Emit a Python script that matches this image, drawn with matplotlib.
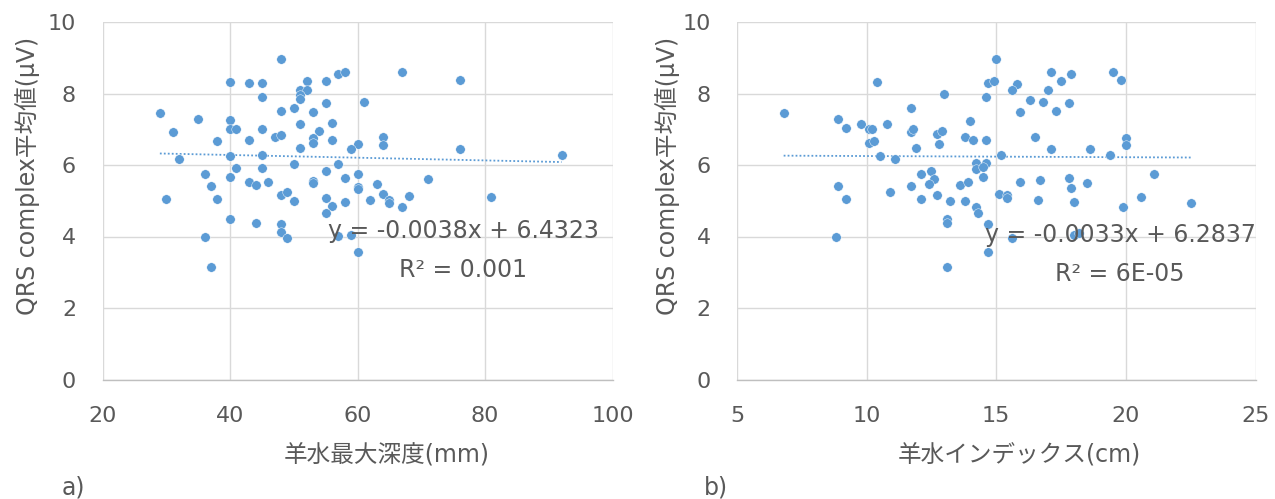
import numpy as np
import matplotlib
matplotlib.use("Agg")
import matplotlib.pyplot as plt

plt.rcParams['font.family'] = ['DejaVu Sans', 'Noto Sans CJK JP']

# a) maximum vertical pocket (mm) vs mean QRS amplitude (uV)
depth_mm = [48, 40, 43, 45, 52, 55, 57, 58, 51, 52, 51, 51, 45, 61, 55, 29, 48, 50, 53, 35,
            40, 31, 40, 41, 45, 51, 56, 54, 38, 43, 47, 48, 53, 53, 56, 51, 60, 59, 32, 40,
            45, 41, 45, 50, 57, 36, 40, 55, 60, 58, 37, 43, 44, 46, 53, 53, 60, 60, 63, 30,
            38, 48, 49, 50, 55, 56, 58, 62, 64, 64, 64, 65, 65, 67, 68, 71, 67, 76, 76, 92,
            81, 40, 44, 48, 48, 49, 36, 37, 55, 57, 59, 60]
qrs_a = [8.97, 8.31, 8.30, 8.28, 8.34, 8.36, 8.54, 8.60, 8.10, 8.09, 7.96, 7.84, 7.91, 7.75, 7.73,
         7.46, 7.51, 7.60, 7.49, 7.28, 7.25, 6.93, 7.01, 7.00, 7.00, 7.14, 7.17, 6.96, 6.67, 6.71,
         6.79, 6.85, 6.76, 6.62, 6.69, 6.48, 6.60, 6.44, 6.16, 6.25, 6.28, 5.91, 5.91, 6.04, 6.04,
         5.75, 5.66, 5.83, 5.75, 5.65, 5.41, 5.53, 5.44, 5.52, 5.56, 5.49, 5.39, 5.32, 5.47, 5.05,
         5.05, 5.17, 5.24, 4.98, 5.07, 4.85, 4.97, 5.02, 6.77, 6.56, 5.19, 5.02, 4.93, 4.83, 5.14,
         5.61, 8.60, 8.38, 6.45, 6.28, 5.10, 4.49, 4.38, 4.36, 4.13, 3.95, 3.99, 3.16, 4.65, 4.01,
         4.03, 3.57]

# b) amniotic fluid index (cm) vs mean QRS amplitude (uV)
afi_cm = [6.8, 10.4, 13.0, 15.0, 14.7, 14.9, 14.6, 11.7, 8.9, 9.2, 9.8, 10.1, 10.2, 10.8, 11.7,
          11.8, 10.1, 10.3, 12.7, 12.9, 12.8, 14.0, 13.8, 14.1, 14.6, 11.9, 10.5, 11.1, 15.2, 14.2,
          14.6, 14.2, 14.5, 14.5, 12.1, 12.5, 12.6, 12.4, 13.6, 13.9, 11.7, 8.9, 10.9, 9.2, 12.1,
          12.7, 13.2, 13.8, 14.2, 14.3, 13.1, 13.1, 14.7, 14.7, 8.8, 13.1, 15.1, 17.1, 17.9, 17.5,
          15.8, 15.6, 17.0, 19.5, 19.8, 16.3, 16.8, 17.8, 15.9, 17.3, 16.5, 17.1, 18.6, 20.0, 20.0,
          19.4, 15.9, 16.7, 17.8, 17.9, 18.5, 21.1, 15.4, 15.4, 16.6, 18.0, 19.9, 20.6, 22.5, 15.6,
          18.0, 18.2]
qrs_b = [7.46, 8.32, 7.98, 8.97, 8.30, 8.34, 7.91, 7.60, 7.28, 7.04, 7.16, 7.01, 7.00, 7.14, 6.93,
         7.00, 6.62, 6.67, 6.86, 6.96, 6.59, 7.24, 6.79, 6.71, 6.69, 6.48, 6.25, 6.17, 6.29, 6.05,
         6.05, 5.89, 5.95, 5.67, 5.75, 5.84, 5.62, 5.47, 5.44, 5.52, 5.41, 5.41, 5.24, 5.04, 5.05,
         5.15, 5.00, 4.98, 4.83, 4.67, 4.50, 4.37, 4.36, 3.57, 3.99, 3.16, 5.19, 8.60, 8.54, 8.35,
         8.27, 8.09, 8.11, 8.60, 8.38, 7.83, 7.75, 7.73, 7.49, 7.51, 6.77, 6.44, 6.45, 6.75, 6.56,
         6.29, 5.53, 5.57, 5.64, 5.35, 5.50, 5.76, 5.17, 5.07, 5.03, 4.97, 4.83, 5.11, 4.93, 3.95,
         4.04, 4.09]

# Linear trendlines as reported on the chart
trend_a = (-0.0038, 6.4323, "y = -0.0038x + 6.4323", "R² = 0.001")
trend_b = (-0.0033, 6.2837, "y = -0.0033x + 6.2837", "R² = 6E-05")

y_ticks = [0, 2, 4, 6, 8, 10]
x_ticks_a = [20, 40, 60, 80, 100]
x_ticks_b = [5, 10, 15, 20, 25]

BLUE = '#5B9BD5'
TEXT = '#595959'
GRID = '#D9D9D9'
W, H = 1275, 499

fig = plt.figure(figsize=(W / 100, H / 100), dpi=100)


def px(x, y):
    return x / W, 1 - y / H


def panel(rect, xs, ys, xticks, trend, xlabel, tag, ylabel_x, xlabel_x, tag_x, eq_x, eq_y):
    ax = fig.add_axes(rect)
    ax.set_xlim(xticks[0], xticks[-1])
    ax.set_ylim(0, 10)
    ax.set_xticks(xticks)
    ax.set_yticks(y_ticks)
    ax.grid(True, color=GRID, linewidth=1.0)
    ax.set_axisbelow(True)
    for s in ['top', 'right', 'left']:
        ax.spines[s].set_visible(False)
    ax.spines['bottom'].set_color('#BFBFBF')
    ax.spines['bottom'].set_linewidth(1.0)
    ax.tick_params(length=0, labelsize=16, labelcolor=TEXT, pad=19)

    ax.plot(xs, ys, 'o', color=BLUE, markersize=6.8, markeredgecolor='white',
            markeredgewidth=0.3, zorder=3)

    slope, icpt, eq, r2 = trend
    tx = np.array([min(xs), max(xs)])
    ax.plot(tx, slope * tx + icpt, color=BLUE, linewidth=1.3,
            linestyle=(0, (1, 1.2)), zorder=2)

    fig.text(*px(eq_x, eq_y), eq, ha='center', va='center', fontsize=17, color=TEXT)
    fig.text(*px(eq_x, eq_y + 39), r2, ha='center', va='center', fontsize=17, color=TEXT)
    fig.text(*px(ylabel_x, 176), 'QRS complex平均値(μV)', rotation=90, ha='center',
             va='center', fontsize=17, color=TEXT)
    fig.text(*px(xlabel_x, 455), xlabel, ha='center', va='center', fontsize=17, color=TEXT)
    fig.text(*px(tag_x, 487), tag, ha='center', va='center', fontsize=17, color=TEXT)
    return ax


bottom = (H - 379.5) / H
height = 357.5 / H
panel([102.5 / W, bottom, 510 / W, height], depth_mm, qrs_a, x_ticks_a, trend_a,
      '羊水最大深度(mm)', 'a)', 28, 387, 73, 463, 231)
panel([737 / W, bottom, 518.5 / W, height], afi_cm, qrs_b, x_ticks_b, trend_b,
      '羊水インデックス(cm)', 'b)', 668, 1019, 716, 1120, 235)

fig.savefig('out.png', dpi=100)
